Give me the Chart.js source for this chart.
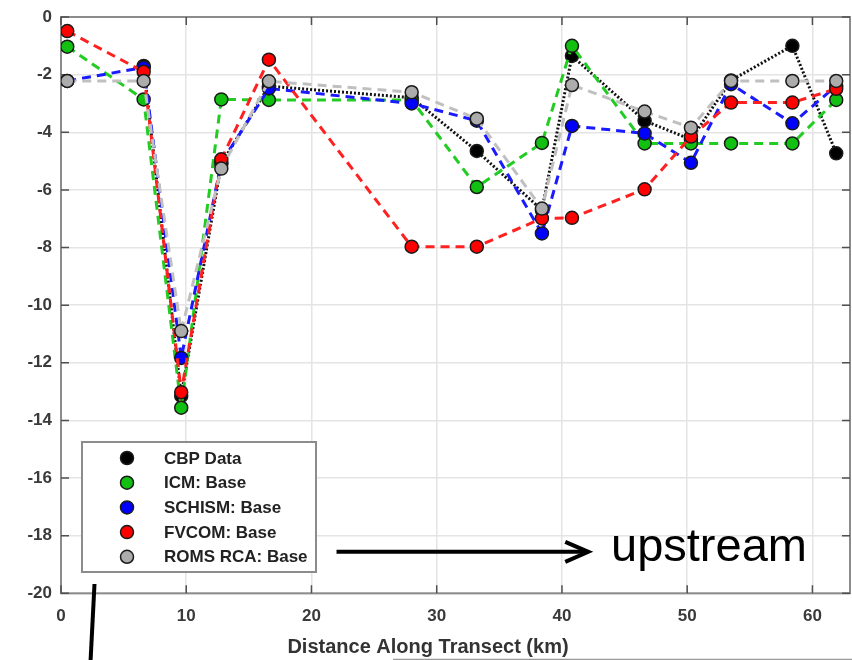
<!DOCTYPE html>
<html>
<head>
<meta charset="utf-8">
<script src="https://cdn.jsdelivr.net/npm/chart.js@4.4.1/dist/chart.umd.min.js"></script>
<style>
html,body{margin:0;padding:0;background:#fff;}
#wrap{width:852px;height:660px;position:relative;}
</style>
</head>
<body>
<div id="wrap"><canvas id="c" width="852" height="660"></canvas></div>
<script>
// ---- data ----
const stationKm  = [0.5, 6.6, 9.6, 12.8, 16.6, 28.0, 33.2, 38.4, 40.8, 46.6, 50.3, 53.5, 58.4, 61.9];
const cbpData    = [null, -1.7, -13.15, -5.1, -2.4, -2.8, -4.65, -6.7, -1.35, -3.6, -4.25, -2.2, -1.0, -4.73];
const icmBase    = [-1.03, -2.86, -13.56, -2.86, -2.88, -2.88, -5.9, -4.37, -1.0, -4.39, -4.39, -4.39, -4.39, -2.88];
const schismBase = [-2.22, -1.75, -11.83, -5.05, -2.48, -3.0, -3.6, -7.51, -3.78, -4.04, -5.06, -2.33, -3.69, -2.39];
const fvcomBase  = [-0.49, -1.9, -13.02, -4.94, -1.48, -7.97, -7.97, -6.99, -6.97, -5.98, -4.15, -2.97, -2.97, -2.49];
const romsBase   = [-2.22, -2.22, -10.9, -5.26, -2.23, -2.61, -3.53, -6.65, -2.36, -3.28, -3.84, -2.22, -2.22, -2.22];
const seriesNames = ['CBP Data', 'ICM: Base', 'SCHISM: Base', 'FVCOM: Base', 'ROMS RCA: Base'];
const xTicks = [0, 10, 20, 30, 40, 50, 60];
const yTicks = [-20, -18, -16, -14, -12, -10, -8, -6, -4, -2, 0];
const xTitle = 'Distance Along Transect (km)';
const noteText = 'upstream';

const FONT = '"Liberation Sans", Arial, sans-serif';
const pts = arr => stationKm.map((k, i) => ({x: k, y: arr[i]}));

function ds(label, arr, line, fill, dash, width, order) {
  return {
    label, data: pts(arr), borderColor: line, backgroundColor: fill,
    borderDash: dash, borderWidth: width, pointRadius: 6.5, pointHoverRadius: 6.5,
    pointBackgroundColor: fill, pointBorderColor: '#1a1a1a', pointBorderWidth: 1.5,
    tension: 0, spanGaps: false, order, fill: false
  };
}

const datasets = [
  ds(seriesNames[0], cbpData,    '#111111', '#000000', [2, 2], 3, 5),
  ds(seriesNames[1], icmBase,    '#22cc22', '#11c011', [9, 6], 3, 4),
  ds(seriesNames[2], schismBase, '#1a1aff', '#0000ff', [9, 6], 3, 3),
  ds(seriesNames[3], fvcomBase,  '#ff2020', '#ff0000', [9, 6], 3, 2),
  ds(seriesNames[4], romsBase,   '#c0c0c0', '#acacac', [9, 6], 3, 1)
];

const framePlugin = {
  id: 'frame',
  beforeDatasetsDraw(chart) {
    const {ctx, chartArea: a, scales: {x, y}} = chart;
    ctx.save();
    ctx.strokeStyle = '#8c8c8c'; ctx.lineWidth = 2;
    ctx.strokeRect(a.left, a.top, a.right - a.left, a.bottom - a.top);
    ctx.strokeStyle = '#505050'; ctx.lineWidth = 1.5;
    ctx.beginPath();
    x.ticks.forEach(t => {
      const p = x.getPixelForValue(t.value);
      ctx.moveTo(p, a.bottom); ctx.lineTo(p, a.bottom - 8);
      ctx.moveTo(p, a.top); ctx.lineTo(p, a.top + 8);
    });
    y.ticks.forEach(t => {
      const p = y.getPixelForValue(t.value);
      ctx.moveTo(a.left, p); ctx.lineTo(a.left + 8, p);
      ctx.moveTo(a.right, p); ctx.lineTo(a.right - 8, p);
    });
    ctx.stroke();
    ctx.restore();
  }
};

const annotPlugin = {
  id: 'annot',
  afterDraw(chart) {
    const {ctx, chartArea: a, scales: {x, y}} = chart;
    ctx.save();
    // legend box
    const lx = 82, ly = 442, lw = 234, lh = 130;
    ctx.fillStyle = '#ffffff';
    ctx.fillRect(lx, ly, lw, lh);
    ctx.strokeStyle = '#8c8c8c'; ctx.lineWidth = 2;
    ctx.strokeRect(lx, ly, lw, lh);
    ctx.font = 'bold 17px ' + FONT;
    ctx.textBaseline = 'middle'; ctx.textAlign = 'left';
    chart.data.datasets.forEach((d, i) => {
      const cy = ly + 16 + i * 24.7;
      ctx.beginPath();
      ctx.arc(lx + 45, cy, 6.5, 0, Math.PI * 2);
      ctx.fillStyle = d.pointBackgroundColor; ctx.fill();
      ctx.strokeStyle = '#1a1a1a'; ctx.lineWidth = 1.5; ctx.stroke();
      ctx.fillStyle = '#222222';
      ctx.fillText(d.label, lx + 82, cy + 1);
    });
    // arrow
    const ay = y.getPixelForValue(-18.56);
    const ax0 = x.getPixelForValue(22.0), ax1 = x.getPixelForValue(42.1);
    ctx.strokeStyle = '#000'; ctx.lineWidth = 4; ctx.lineCap = 'butt';
    ctx.beginPath(); ctx.moveTo(ax0, ay); ctx.lineTo(ax1 - 2, ay); ctx.stroke();
    ctx.lineWidth = 4; ctx.lineJoin = 'miter';
    ctx.beginPath();
    ctx.moveTo(ax1 - 23, ay - 10); ctx.lineTo(ax1, ay); ctx.lineTo(ax1 - 23, ay + 10);
    ctx.stroke();
    // upstream text
    ctx.fillStyle = '#000';
    ctx.font = '47px ' + FONT;
    ctx.textBaseline = 'alphabetic'; ctx.textAlign = 'left';
    ctx.fillText(noteText, 611, 561);
    // x axis title
    ctx.font = 'bold 20px ' + FONT;
    ctx.fillStyle = '#333333'; ctx.textAlign = 'center'; ctx.textBaseline = 'middle';
    ctx.fillText(xTitle, 428, 647);
    // vertical stroke below axes
    ctx.strokeStyle = '#000'; ctx.lineWidth = 4;
    ctx.beginPath(); ctx.moveTo(94.5, 584); ctx.lineTo(90.5, 662); ctx.stroke();
    // thin bottom line
    ctx.strokeStyle = '#9a9a9a'; ctx.lineWidth = 1.5;
    ctx.beginPath(); ctx.moveTo(393, 659.5); ctx.lineTo(852, 659.5); ctx.stroke();
    ctx.restore();
  }
};

new Chart(document.getElementById('c'), {
  type: 'line',
  data: {datasets},
  options: {
    responsive: false, animation: false, devicePixelRatio: 1,
    layout: {autoPadding: false, padding: {top: 17, right: 2, left: 0, bottom: 0}},
    plugins: {legend: {display: false}, tooltip: {enabled: false}, title: {display: false}},
    scales: {
      x: {
        type: 'linear', min: 0, max: 63,
        afterBuildTicks: s => { s.ticks = xTicks.map(v => ({value: v})); },
        afterFit: s => { s.height = 66.7; s.paddingLeft = 0; s.paddingRight = 0; },
        grid: {color: '#e4e4e4', lineWidth: 1.5, drawTicks: false},
        border: {display: false},
        ticks: {padding: 13, color: '#3a3a3a', font: {family: FONT, size: 17, weight: 'bold'}, maxRotation: 0}
      },
      y: {
        type: 'linear', min: -20, max: 0,
        afterBuildTicks: s => { s.ticks = yTicks.map(v => ({value: v})); },
        afterFit: s => { s.width = 61; s.paddingTop = 0; s.paddingBottom = 0; },
        grid: {color: '#e4e4e4', lineWidth: 1.5, drawTicks: false},
        border: {display: false},
        ticks: {padding: 9, color: '#3a3a3a', font: {family: FONT, size: 17, weight: 'bold'}}
      }
    }
  },
  plugins: [framePlugin, annotPlugin]
});
</script>
</body>
</html>
